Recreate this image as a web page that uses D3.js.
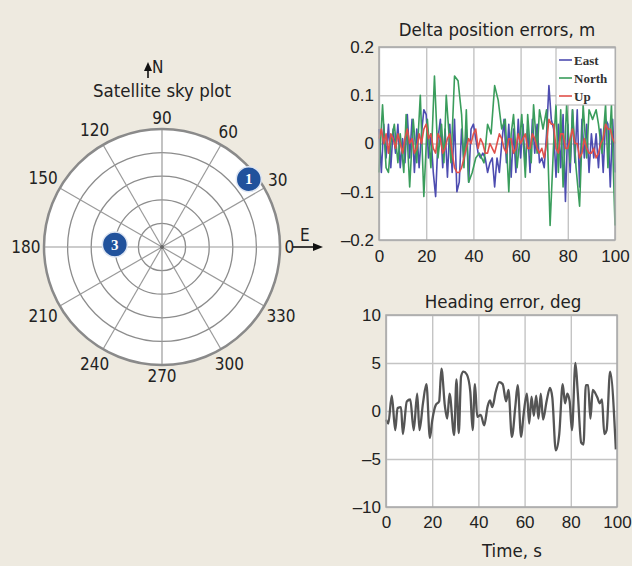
<!DOCTYPE html>
<html>
<head>
<meta charset="utf-8">
<title>Satellite sky plot and errors</title>
<script src="https://cdn.jsdelivr.net/npm/d3@7"></script>
<style>
  body { margin: 0; background: #eeeae0; }
  svg { display: block; font-family: "DejaVu Sans Condensed", "DejaVu Sans", sans-serif; }
  .grid line { stroke: #c4c4c4; stroke-width: 1.4; }
  .grid path { display: none; }
  .grid text { fill: #222; font-size: 17px; }
</style>
</head>
<body>
<svg id="chart" width="632" height="566"></svg>
<script>
// sky plot: azimuth (deg, ccw from east) and elevation (deg)
var satId = ["1", "3"];
var satAz = [38, 177];
var satEl = [6, 54];
var azLabels = [0, 30, 60, 90, 120, 150, 180, 210, 240, 270, 300, 330];
var elRings = [72, 54, 36, 18, 0];

// delta position errors, m (East and Up sampled every second)
var eastVal = [
  0.03,-0.06,0.04,-0.03,0.04,-0.05,0.03,-0.02,0.04,-0.05,
  0.01,-0.04,0.06,-0.03,0.05,-0.06,0.03,-0.05,0.02,0.07,
  0.06,-0.03,0.02,-0.06,-0.11,0.01,0.05,-0.05,0.03,-0.07,
  0.04,-0.06,0.05,-0.10,-0.08,0.03,-0.04,0.03,-0.08,0.03,
  0.04,0.01,-0.02,-0.03,-0.02,-0.03,-0.06,-0.04,-0.03,-0.09,
  -0.03,-0.06,0.00,0.05,-0.04,0.04,-0.07,0.03,-0.06,0.05,
  -0.03,0.04,-0.05,0.03,-0.06,0.05,-0.02,0.04,-0.04,-0.03,
  -0.05,0.02,0.12,0.05,0.03,-0.07,0.04,-0.05,0.06,-0.12,
  0.04,-0.06,0.07,-0.04,0.07,-0.09,0.05,-0.03,0.04,-0.06,
  0.02,-0.03,0.02,-0.05,0.03,-0.06,0.05,0.04,-0.09,0.05,-0.06];
var upVal = [
  0.01,0.03,0.00,0.02,-0.02,0.02,0.01,-0.01,0.02,0.00,
  -0.02,0.01,0.03,0.00,0.01,-0.02,-0.01,0.02,0.00,0.03,
  0.04,0.01,0.02,-0.01,-0.02,0.02,0.01,-0.02,-0.01,0.01,
  0.02,-0.02,-0.05,-0.06,-0.06,-0.05,-0.03,-0.01,0.01,0.00,
  0.02,0.03,-0.01,0.01,0.00,-0.02,-0.02,0.00,-0.01,-0.02,
  0.00,0.02,0.01,-0.01,-0.02,0.01,0.01,-0.02,-0.01,0.02,
  0.00,0.01,0.02,-0.01,-0.01,0.02,0.01,-0.01,-0.02,-0.01,
  -0.03,0.00,0.05,0.04,0.04,-0.01,-0.02,0.02,0.02,-0.01,
  -0.01,0.01,0.03,0.00,0.00,-0.03,-0.02,0.01,-0.01,-0.02,
  -0.02,-0.01,-0.03,-0.02,0.00,0.01,0.04,0.03,0.03,0.01,0.00];
var northT = [0,1.5,3,4,5,6.5,8,9,10.5,11.5,13,14.5,16,17.5,19,20.5,22,23.5,25,26.5,
  27.5,28.5,30.5,32,33.5,35,36,37,38,39.5,41,42.5,44.5,46,47.5,49,50.5,52,53.5,55,
  56,57,58.5,59.5,60.5,62,63,64.5,65.5,67,68,69.5,71,72.5,74,75,76,77,78,79.5,
  81,82,83.5,85,86.5,88,89,90.5,92,93,94.5,96,97,98.5,100];
var northVal = [-0.06,0.08,-0.05,-0.06,0.0,0.04,-0.04,0.02,-0.06,0.06,-0.09,0.05,-0.04,0.10,-0.11,
  0.05,-0.05,0.14,-0.03,0.04,-0.04,0.10,-0.04,0.14,0.13,0.06,-0.05,0.07,-0.08,-0.06,
  -0.03,-0.02,-0.04,0.04,0.02,0.12,0.09,0.03,0.05,-0.10,0.02,0.06,-0.05,0.0,0.06,
  -0.07,0.06,-0.04,0.08,-0.02,0.07,0.03,0.07,-0.17,0.0,0.08,-0.06,0.07,-0.09,0.08,
  -0.04,0.07,-0.05,-0.13,0.08,-0.03,0.07,0.05,0.07,0.04,-0.02,0.08,-0.05,0.08,-0.17];
var posNames = ["East", "North", "Up"];
var posColors = ["#4d4cb0", "#3a9d5c", "#e0504a"];

// heading error, deg
var headT = [0,1,2.5,4,5,6.5,7.3,9,10.5,12,13.5,14.5,16,17.5,19,20,21.5,23,24,25.5,
  26.5,27.5,29.5,30.5,31.5,32.5,33.5,35,36.5,37.5,38.5,39.5,41,42.5,44,45,46,47.5,49,50.5,
  52,53,54.5,56,57,58.5,59.5,61,62,63,64,65,66,67,68,69.5,71,72,73.5,75,
  76.5,77.5,78.5,79.5,80.5,82,83,84.5,85.5,86.5,87.5,88.5,89.5,90.5,91.5,92.5,93.5,94.5,95.5,97,99.5];
var headErr = [-0.9,-1.3,1.6,-2.0,0.3,0.4,-2.4,1.0,1.2,-2.0,1.8,-2.0,0.8,2.8,-2.8,-1.0,0.6,1.0,4.4,0.5,
  -0.8,1.8,-2.5,3.3,-2.3,3.6,4.1,3.8,2.0,-2.0,2.8,-0.6,-0.4,-1.5,0.5,1.1,0.4,2.0,3.0,2.8,
  1.0,2.2,-2.7,0.5,2.7,-2.7,-0.5,1.8,-1.3,1.5,-0.5,1.6,-0.8,1.8,-0.9,1.0,2.4,1.4,-4.1,-2.4,
  2.8,0.8,1.8,1.0,-2.0,5.0,2.0,-3.3,-3.5,2.7,2.7,-0.8,2.2,1.9,1.4,0.8,1.2,-2.4,-2.0,4.1,-4.0];

var svg = d3.select("#chart");
var dash = function (s) { return s.replace("-", "\u2013").replace("\u2212", "\u2013"); };

// ---------- sky plot ----------
var cx = 162, cy = 247, R = 118;
var rEl = d3.scaleLinear().domain([90, 0]).range([0, R]);
var rad = function (a) { return a * Math.PI / 180; };
var sky = svg.append("g").attr("transform", "translate(" + cx + "," + cy + ")");

sky.append("circle").attr("r", R).attr("fill", "#fff");
sky.selectAll(".ring").data(elRings.slice(0, 4)).enter().append("circle")
  .attr("r", function (d) { return rEl(d); })
  .attr("fill", "none").attr("stroke", "#8c8c8c").attr("stroke-width", 1.3);
sky.selectAll(".spoke").data(azLabels).enter().append("line")
  .attr("x1", 0).attr("y1", 0)
  .attr("x2", function (d) { return R * Math.cos(rad(d)); })
  .attr("y2", function (d) { return -R * Math.sin(rad(d)); })
  .attr("stroke", "#9a9a9a").attr("stroke-width", 1.2);
sky.append("circle").attr("r", R).attr("fill", "none").attr("stroke", "#8a8a8a").attr("stroke-width", 2.5);
sky.append("circle").attr("r", 2).attr("fill", "#666");

// azimuth labels pushed out according to their own width
sky.selectAll(".azl").data(azLabels).enter().append("text")
  .attr("text-anchor", "middle").attr("dominant-baseline", "central")
  .attr("font-size", 17).attr("fill", "#222")
  .text(function (d) { return d; })
  .each(function (d) {
    var w = this.getComputedTextLength();
    var r = 123 + 0.45 * w * Math.abs(Math.cos(rad(d))) + 6 * Math.abs(Math.sin(rad(d)));
    d3.select(this).attr("x", r * Math.cos(rad(d))).attr("y", -r * Math.sin(rad(d)));
  });

var sat = sky.selectAll(".sat").data(satId).enter().append("g")
  .attr("transform", function (d, i) {
    var r = rEl(satEl[i]);
    return "translate(" + r * Math.cos(rad(satAz[i])) + "," + (-r * Math.sin(rad(satAz[i]))) + ")";
  });
sat.append("circle").attr("r", 12.5).attr("fill", "#21529c").attr("stroke", "#dfe6f2").attr("stroke-width", 1.5);
sat.append("text").attr("text-anchor", "middle").attr("dominant-baseline", "central")
  .attr("font-family", "Liberation Serif, serif").attr("font-weight", "bold")
  .attr("font-size", 15).attr("fill", "#fff").text(function (d) { return d; });

// north and east arrows
svg.append("line").attr("x1", 148).attr("y1", 78).attr("x2", 148).attr("y2", 69)
  .attr("stroke", "#111").attr("stroke-width", 1.6);
svg.append("path").attr("d", "M148,62L152,71L144,71Z").attr("fill", "#111");
svg.append("text").attr("x", 152).attr("y", 73).attr("font-size", 17).attr("fill", "#222").text("N");
svg.append("text").attr("x", 162).attr("y", 97).attr("text-anchor", "middle")
  .attr("font-size", 18.5).attr("fill", "#222").text("Satellite sky plot");
svg.append("line").attr("x1", 293).attr("y1", 247).attr("x2", 315).attr("y2", 247)
  .attr("stroke", "#111").attr("stroke-width", 1.6);
svg.append("path").attr("d", "M323,247L313,243L313,251Z").attr("fill", "#111");
svg.append("text").attr("x", 300).attr("y", 241).attr("font-size", 17).attr("fill", "#222").text("E");

// ---------- helper for the two time plots ----------
function framePlot(x0, x1, y0, y1, yDomain, yTicks, fmt, pad) {
  var g = svg.append("g");
  var x = d3.scaleLinear().domain([0, 100]).range([x0, x1]);
  var y = d3.scaleLinear().domain(yDomain).range([y1, y0]);
  g.append("rect").attr("x", x0).attr("y", y0).attr("width", x1 - x0).attr("height", y1 - y0).attr("fill", "#fff");
  g.append("g").attr("class", "grid").attr("transform", "translate(0," + y1 + ")")
    .call(d3.axisBottom(x).tickValues([0, 20, 40, 60, 80, 100]).tickSize(-(y1 - y0)).tickPadding(pad));
  g.append("g").attr("class", "grid").attr("transform", "translate(" + x0 + ",0)")
    .call(d3.axisLeft(y).tickValues(yTicks).tickSize(-(x1 - x0)).tickPadding(5).tickFormat(fmt));
  return { g: g, x: x, y: y, x0: x0, x1: x1, y0: y0, y1: y1 };
}
function border(p) {
  p.g.append("rect").attr("x", p.x0).attr("y", p.y0).attr("width", p.x1 - p.x0).attr("height", p.y1 - p.y0)
    .attr("fill", "none").attr("stroke", "#a8a8a8").attr("stroke-width", 1.5);
}

// ---------- delta position errors ----------
var pos = framePlot(379, 615, 47, 240, [-0.2, 0.2], [-0.2, -0.1, 0, 0.1, 0.2],
  function (d) { return d === 0 ? "0" : dash(d3.format(".1f")(d)); }, 10);
var posSeries = [
  eastVal.map(function (v, i) { return [i, v]; }),
  northT.map(function (t, i) { return [t, northVal[i]]; }),
  upVal.map(function (v, i) { return [i, v]; })
];
var posLine = d3.line().x(function (d) { return pos.x(d[0]); }).y(function (d) { return pos.y(d[1]); });
pos.g.selectAll(".pl").data(posSeries).enter().append("path")
  .attr("d", posLine).attr("fill", "none")
  .attr("stroke", function (d, i) { return posColors[i]; })
  .attr("stroke-width", 1.6).attr("stroke-linejoin", "round");
border(pos);
svg.append("text").attr("x", 497).attr("y", 36).attr("text-anchor", "middle")
  .attr("font-size", 18.5).attr("fill", "#222").text("Delta position errors, m");

var leg = svg.append("g").attr("transform", "translate(556,48)");
leg.append("rect").attr("width", 59).attr("height", 57).attr("fill", "#fff").attr("stroke", "#b0b0b0");
leg.selectAll(".li").data(posNames).enter().append("line")
  .attr("x1", 3).attr("x2", 16)
  .attr("y1", function (d, i) { return 12 + i * 18; }).attr("y2", function (d, i) { return 12 + i * 18; })
  .attr("stroke", function (d, i) { return posColors[i]; }).attr("stroke-width", 1.6);
leg.selectAll(".lt").data(posNames).enter().append("text")
  .attr("x", 18).attr("y", function (d, i) { return 12 + i * 18; })
  .attr("dominant-baseline", "central")
  .attr("font-family", "Liberation Serif, serif").attr("font-weight", "bold")
  .attr("font-size", 13).attr("fill", "#333").text(function (d) { return d; });

// ---------- heading error ----------
var hd = framePlot(386, 617, 315, 507, [-10, 10], [-10, -5, 0, 5, 10],
  function (d) { return dash(String(d)); }, 9);
hd.g.append("path")
  .datum(headT.map(function (t, i) { return [t, headErr[i]]; }))
  .attr("d", d3.line().curve(d3.curveMonotoneX)
    .x(function (d) { return hd.x(d[0]); }).y(function (d) { return hd.y(d[1]); }))
  .attr("fill", "none").attr("stroke", "#555").attr("stroke-width", 2.3).attr("stroke-linejoin", "round");
border(hd);
svg.append("text").attr("x", 503).attr("y", 308).attr("text-anchor", "middle")
  .attr("font-size", 18.5).attr("fill", "#222").text("Heading error, deg");
svg.append("text").attr("x", 512).attr("y", 557).attr("text-anchor", "middle")
  .attr("font-size", 18.5).attr("fill", "#222").text("Time, s");
</script>
</body>
</html>
